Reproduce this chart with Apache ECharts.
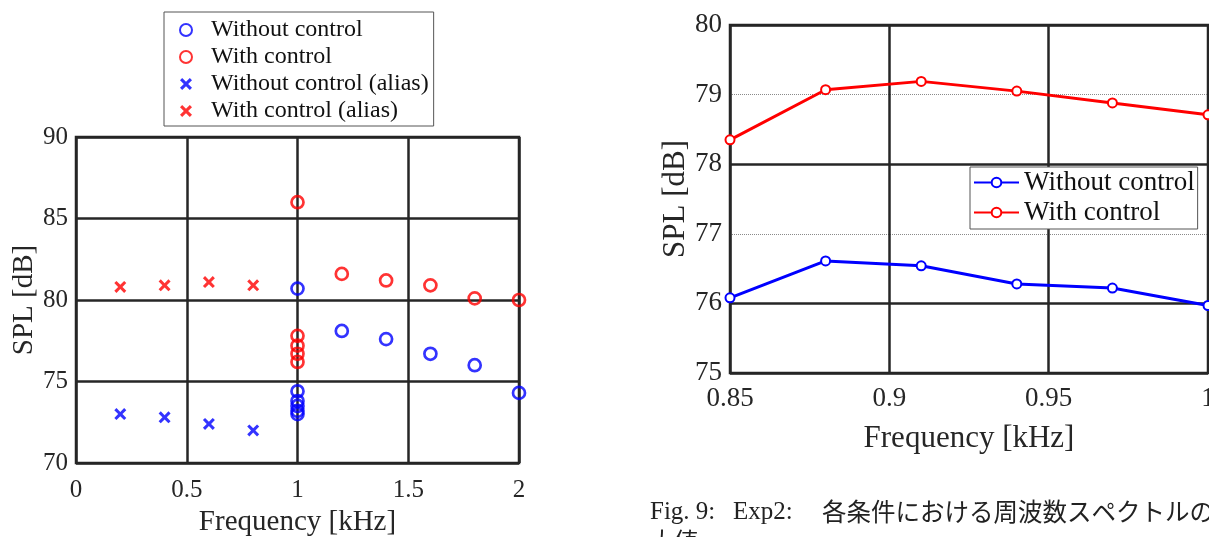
<!DOCTYPE html>
<html>
<head>
<meta charset="utf-8">
<script src="https://cdn.jsdelivr.net/npm/echarts@6/dist/echarts.min.js"></script>
<style>
  html, body { margin: 0; padding: 0; background: #fff; }
  #main { width: 1209px; height: 537px; }
</style>
</head>
<body>
<div id="main"></div>
<script>
// left plot (Exp1): peaks at each frequency
const withoutFreq = [1, 1, 1, 1, 1, 1, 1.2, 1.4, 1.6, 1.8, 2]
const withoutSpl = [80.7, 74.4, 73.8, 73.5, 73.2, 73.0, 78.1, 77.6, 76.7, 76.0, 74.3]
const withFreq = [1, 1, 1, 1, 1, 1.2, 1.4, 1.6, 1.8, 2]
const withSpl = [86.0, 77.8, 77.2, 76.7, 76.2, 81.6, 81.2, 80.9, 80.1, 80.0]
const aliasFreq = [0.2, 0.4, 0.6, 0.8]
const aliasWithoutSpl = [73.0, 72.8, 72.4, 72.0]
const aliasWithSpl = [80.8, 80.9, 81.1, 80.9]

// right plot (Exp2): 0.85 - 1 kHz
const exp2Freq = [0.85, 0.88, 0.91, 0.94, 0.97, 1.0]
const exp2Without = [76.08, 76.61, 76.54, 76.28, 76.22, 75.97]
const exp2With = [78.35, 79.07, 79.19, 79.05, 78.88, 78.71]

const textColor = '#262626'
const serif = 'Liberation Serif'
const gridColor = '#262626'
// x marker as a filled polygon (legend does not rotate symbols)
const crossPath = 'path://M0,1.8L1.8,0L5,3.2L8.2,0L10,1.8L6.8,5L10,8.2L8.2,10L5,6.8L1.8,10L0,8.2L3.2,5Z'

function zip(xs, ys) {
  return xs.map((x, i) => [x, ys[i]])
}

const chart = echarts.init(document.getElementById('main'))

chart.setOption({
  animation: false,
  backgroundColor: '#fff',
  textStyle: { fontFamily: serif, color: textColor },
  grid: [
    { left: 76, top: 137, width: 443, height: 326, show: true, borderColor: gridColor, borderWidth: 2.5, outerBoundsMode: 'none' },
    { left: 730, top: 25, width: 478, height: 348, show: true, borderColor: gridColor, borderWidth: 2.5, outerBoundsMode: 'none' }
  ],
  legend: [
    {
      left: 164, top: 12, orient: 'vertical',
      padding: [6, 5, 3, 15], itemGap: 3,
      itemWidth: 34, itemHeight: 12,
      backgroundColor: '#fff', borderColor: '#555', borderWidth: 1,
      selectedMode: false,
      textStyle: { fontFamily: serif, fontSize: 24, color: '#111', padding: [0, 0, 0, 3] },
      data: ['Without control', 'With control', 'Without control (alias)', 'With control (alias)']
    },
    {
      left: 970, top: 167, orient: 'vertical',
      padding: [2, 3, 3, 3], itemGap: 3,
      itemWidth: 45, itemHeight: 12,
      backgroundColor: '#fff', borderColor: '#555', borderWidth: 1,
      selectedMode: false,
      textStyle: { fontFamily: serif, fontSize: 27, color: '#111' },
      formatter: name => name.trim(),
      data: ['Without control ', 'With control ']
    }
  ],
  xAxis: [
    {
      gridIndex: 0, type: 'value', min: 0, max: 2, interval: 0.5,
      axisLine: { show: false }, axisTick: { show: false },
      splitLine: { lineStyle: { color: gridColor, width: 2.5 } },
      axisLabel: { color: textColor, fontFamily: serif, fontSize: 25, margin: 15 },
      name: 'Frequency [kHz]', nameLocation: 'middle', nameGap: 43,
      nameTextStyle: { color: textColor, fontFamily: serif, fontSize: 29 }
    },
    {
      gridIndex: 1, type: 'value', min: 0.85, max: 1, interval: 0.05,
      axisLine: { show: false }, axisTick: { show: false },
      splitLine: { lineStyle: { color: gridColor, width: 2.5 } },
      axisLabel: { color: textColor, fontFamily: serif, fontSize: 27, margin: 12 },
      name: 'Frequency [kHz]', nameLocation: 'middle', nameGap: 50,
      nameTextStyle: { color: textColor, fontFamily: serif, fontSize: 31 }
    }
  ],
  yAxis: [
    {
      gridIndex: 0, type: 'value', min: 70, max: 90, interval: 5,
      axisLine: { show: false }, axisTick: { show: false },
      splitLine: { lineStyle: { color: gridColor, width: 2.5 } },
      axisLabel: { color: textColor, fontFamily: serif, fontSize: 25, margin: 8 },
      name: 'SPL [dB]', nameLocation: 'middle', nameGap: 31,
      nameTextStyle: { color: textColor, fontFamily: serif, fontSize: 29 }
    },
    {
      gridIndex: 1, type: 'value', min: 75, max: 80, interval: 1,
      axisLine: { show: false }, axisTick: { show: false },
      // 77 and 79 are drawn by the axis below as thin dotted lines
      splitLine: { lineStyle: { color: [gridColor, gridColor, 'rgba(0,0,0,0)', gridColor, 'rgba(0,0,0,0)', gridColor], width: 2.5 } },
      axisLabel: { color: textColor, fontFamily: serif, fontSize: 27, margin: 8 },
      name: 'SPL [dB]', nameLocation: 'middle', nameGap: 39,
      nameTextStyle: { color: textColor, fontFamily: serif, fontSize: 31 }
    },
    {
      gridIndex: 1, type: 'value', min: 75, max: 80, interval: 1, position: 'left',
      axisLine: { show: false }, axisTick: { show: false }, axisLabel: { show: false },
      splitLine: { lineStyle: { color: ['rgba(0,0,0,0)', 'rgba(0,0,0,0)', '#8a8a8a', 'rgba(0,0,0,0)', '#8a8a8a', 'rgba(0,0,0,0)'], width: 1, type: 'dotted' } }
    }
  ],
  series: [
    {
      name: 'Without control', type: 'scatter', xAxisIndex: 0, yAxisIndex: 0,
      symbol: 'circle', symbolSize: 12,
      itemStyle: { color: 'rgba(0,0,0,0)', borderColor: '#0000ff', borderWidth: 2.7 },
      data: zip(withoutFreq, withoutSpl)
    },
    {
      name: 'With control', type: 'scatter', xAxisIndex: 0, yAxisIndex: 0,
      symbol: 'circle', symbolSize: 12,
      itemStyle: { color: 'rgba(0,0,0,0)', borderColor: '#ff0000', borderWidth: 2.7 },
      data: zip(withFreq, withSpl)
    },
    {
      name: 'Without control (alias)', type: 'scatter', xAxisIndex: 0, yAxisIndex: 0,
      symbol: crossPath, symbolSize: 12,
      itemStyle: { color: '#0000ff' },
      data: zip(aliasFreq, aliasWithoutSpl)
    },
    {
      name: 'With control (alias)', type: 'scatter', xAxisIndex: 0, yAxisIndex: 0,
      symbol: crossPath, symbolSize: 12,
      itemStyle: { color: '#ff0000' },
      data: zip(aliasFreq, aliasWithSpl)
    },
    {
      name: 'Without control ', type: 'line', xAxisIndex: 1, yAxisIndex: 1,
      symbol: 'emptyCircle', symbolSize: 9,
      lineStyle: { color: '#0000ff', width: 3 },
      itemStyle: { color: '#0000ff', borderColor: '#0000ff', borderWidth: 2 },
      data: zip(exp2Freq, exp2Without)
    },
    {
      name: 'With control ', type: 'line', xAxisIndex: 1, yAxisIndex: 1,
      symbol: 'emptyCircle', symbolSize: 9,
      lineStyle: { color: '#ff0000', width: 3 },
      itemStyle: { color: '#ff0000', borderColor: '#ff0000', borderWidth: 2 },
      data: zip(exp2Freq, exp2With)
    }
  ],
  graphic: [
    { type: 'text', left: 650, top: 500, style: { text: 'Fig. 9:', font: '25px "Liberation Serif"', fill: '#222' } },
    { type: 'text', left: 733, top: 500, style: { text: 'Exp2:', font: '25px "Liberation Serif"', fill: '#222' } },
    { type: 'text', left: 822, top: 499, style: { text: '各条件における周波数スペクトルの最', font: '24.5px "Noto Sans CJK JP"', fill: '#222' } },
    { type: 'text', left: 650, top: 529, style: { text: '大値', font: '24px "Noto Sans CJK JP"', fill: '#222' } }
  ]
})
</script>
</body>
</html>
